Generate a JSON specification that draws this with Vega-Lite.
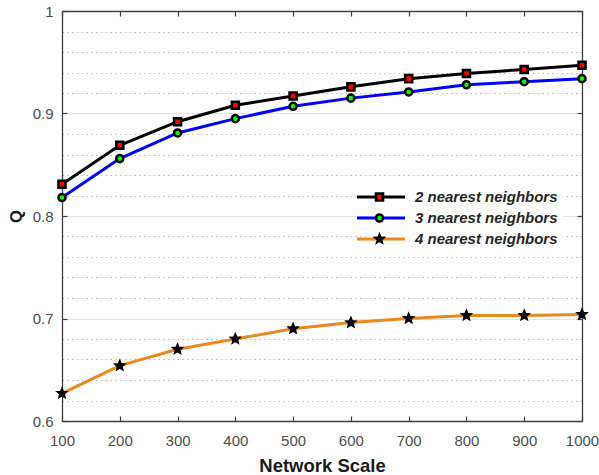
{
  "$schema": "https://vega.github.io/schema/vega-lite/v6.json",
  "width": 520,
  "height": 410,
  "autosize": {"type": "none"},
  "padding": {"left": 62, "top": 11, "right": 17, "bottom": 54},
  "background": "white",
  "config": {"view": {"stroke": null}, "font": "Liberation Sans"},
  "data": {
    "values": [
      {"scale": 100, "Q": 0.831, "series": "2 nearest neighbors"},
      {"scale": 200, "Q": 0.869, "series": "2 nearest neighbors"},
      {"scale": 300, "Q": 0.892, "series": "2 nearest neighbors"},
      {"scale": 400, "Q": 0.908, "series": "2 nearest neighbors"},
      {"scale": 500, "Q": 0.917, "series": "2 nearest neighbors"},
      {"scale": 600, "Q": 0.926, "series": "2 nearest neighbors"},
      {"scale": 700, "Q": 0.934, "series": "2 nearest neighbors"},
      {"scale": 800, "Q": 0.939, "series": "2 nearest neighbors"},
      {"scale": 900, "Q": 0.943, "series": "2 nearest neighbors"},
      {"scale": 1000, "Q": 0.947, "series": "2 nearest neighbors"},
      {"scale": 100, "Q": 0.818, "series": "3 nearest neighbors"},
      {"scale": 200, "Q": 0.856, "series": "3 nearest neighbors"},
      {"scale": 300, "Q": 0.881, "series": "3 nearest neighbors"},
      {"scale": 400, "Q": 0.895, "series": "3 nearest neighbors"},
      {"scale": 500, "Q": 0.907, "series": "3 nearest neighbors"},
      {"scale": 600, "Q": 0.915, "series": "3 nearest neighbors"},
      {"scale": 700, "Q": 0.921, "series": "3 nearest neighbors"},
      {"scale": 800, "Q": 0.928, "series": "3 nearest neighbors"},
      {"scale": 900, "Q": 0.931, "series": "3 nearest neighbors"},
      {"scale": 1000, "Q": 0.934, "series": "3 nearest neighbors"},
      {"scale": 100, "Q": 0.627, "series": "4 nearest neighbors"},
      {"scale": 200, "Q": 0.654, "series": "4 nearest neighbors"},
      {"scale": 300, "Q": 0.670, "series": "4 nearest neighbors"},
      {"scale": 400, "Q": 0.680, "series": "4 nearest neighbors"},
      {"scale": 500, "Q": 0.690, "series": "4 nearest neighbors"},
      {"scale": 600, "Q": 0.696, "series": "4 nearest neighbors"},
      {"scale": 700, "Q": 0.700, "series": "4 nearest neighbors"},
      {"scale": 800, "Q": 0.703, "series": "4 nearest neighbors"},
      {"scale": 900, "Q": 0.703, "series": "4 nearest neighbors"},
      {"scale": 1000, "Q": 0.704, "series": "4 nearest neighbors"}
    ]
  },
  "resolve": {"axis": {"x": "independent", "y": "independent"}},
  "layer": [
    {
      "mark": {"type": "line", "strokeWidth": 3},
      "encoding": {
        "x": {
          "field": "scale", "type": "quantitative",
          "scale": {"domain": [100, 1000], "nice": false, "zero": false},
          "axis": {
            "orient": "bottom",
            "values": [100, 200, 300, 400, 500, 600, 700, 800, 900, 1000],
            "format": "d",
            "grid": false,
            "tickSize": -5, "tickColor": "#404040", "tickWidth": 1.2,
            "domainColor": "#404040", "domainWidth": 1.3,
            "labelFontSize": 15, "labelColor": "#4d4d4d", "labelPadding": 17,
            "labelFlush": false, "labelOverlap": false,
            "title": "Network Scale", "titleFontSize": 18.5, "titleFontWeight": "bold",
            "titleColor": "#1a1a1a", "titlePadding": 8
          }
        },
        "y": {
          "field": "Q", "type": "quantitative",
          "scale": {"domain": [0.6, 1], "nice": false, "zero": false},
          "axis": {
            "orient": "left",
            "values": [0.6, 0.62, 0.64, 0.66, 0.68, 0.7, 0.72, 0.74, 0.76, 0.78, 0.8, 0.82, 0.84, 0.86, 0.88, 0.9, 0.92, 0.94, 0.96, 0.98, 1.0],
            "labelExpr": "abs(datum.value*10-round(datum.value*10))<0.001 ? format(datum.value,'.1~f') : ''",
            "grid": true,
            "gridColor": {"condition": {"test": "abs(datum.value*10-round(datum.value*10))<0.001", "value": "#e3e3e3"}, "value": "#b8b8b8"},
            "gridDash": {"condition": {"test": "abs(datum.value*10-round(datum.value*10))<0.001", "value": []}, "value": [1.5, 3.3]},
            "gridWidth": 1,
            "tickSize": -5, "tickColor": "#404040", "tickWidth": 1.2,
            "tickOpacity": {"condition": {"test": "abs(datum.value*10-round(datum.value*10))<0.001", "value": 1}, "value": 0},
            "domainColor": "#404040", "domainWidth": 1.3,
            "labelFontSize": 15, "labelColor": "#4d4d4d", "labelPadding": 14,
            "labelFlush": false, "labelOverlap": false,
            "title": "Q", "titleFontSize": 16.5, "titleFontWeight": "bold",
            "titleColor": "#1a1a1a", "titlePadding": 8
          }
        },
        "color": {
          "field": "series", "type": "nominal",
          "scale": {
            "domain": ["2 nearest neighbors", "3 nearest neighbors", "4 nearest neighbors"],
            "range": ["#000000", "#0000ff", "#e98a1f"]
          },
          "legend": {
            "orient": "none", "legendX": 307.5, "legendY": 174.5,
            "title": null, "padding": 4, "fillColor": "white",
            "symbolType": "M-12,0H12", "symbolSize": 16, "symbolStrokeWidth": 3,
            "labelOffset": 26.5, "labelFontSize": 15, "labelFontWeight": "bold",
            "labelFontStyle": "italic", "labelColor": "#262626",
            "rowPadding": 5, "zindex": 1
          }
        }
      }
    },
    {
      "mark": {"type": "point", "filled": false, "strokeWidth": 2.5, "size": 50, "opacity": 1},
      "encoding": {
        "x": {
          "field": "scale", "type": "quantitative",
          "scale": {"domain": [100, 1000], "nice": false, "zero": false},
          "axis": {
            "orient": "top",
            "values": [100, 200, 300, 400, 500, 600, 700, 800, 900, 1000],
            "grid": false, "labels": false, "title": null,
            "tickSize": -5, "tickColor": "#404040", "tickWidth": 1.2,
            "domainColor": "#404040", "domainWidth": 1.3
          }
        },
        "y": {
          "field": "Q", "type": "quantitative",
          "scale": {"domain": [0.6, 1], "nice": false, "zero": false},
          "axis": {
            "orient": "right",
            "values": [0.6, 0.7, 0.8, 0.9, 1.0],
            "grid": false, "labels": false, "title": null,
            "tickSize": -5, "tickColor": "#404040", "tickWidth": 1.2,
            "domainColor": "#404040", "domainWidth": 1.3
          }
        },
        "fill": {
          "field": "series", "type": "nominal",
          "scale": {"range": ["#ff0000", "#00ff00", "#0000ff"]},
          "legend": {
            "orient": "none", "legendX": 306, "legendY": 174.5,
            "title": null, "padding": 4,
            "symbolSize": 50, "symbolStrokeWidth": 2.5,
            "labelOffset": 26.5, "labelFontSize": 15, "labelFontWeight": "bold",
            "labelFontStyle": "italic", "labelOpacity": 0,
            "rowPadding": 2, "zindex": 2
          }
        },
        "stroke": {
          "field": "series", "type": "nominal",
          "scale": {"range": ["#000000", "#000000", "#000000"]},
          "legend": {
            "orient": "none", "legendX": 306, "legendY": 174.5,
            "title": null, "padding": 4,
            "symbolSize": 50, "symbolStrokeWidth": 2.5,
            "labelOffset": 26.5, "labelFontSize": 15, "labelFontWeight": "bold",
            "labelFontStyle": "italic", "labelOpacity": 0,
            "rowPadding": 2, "zindex": 2
          }
        },
        "shape": {
          "field": "series", "type": "nominal",
          "scale": {"range": ["square", "circle", "M0,-1.1L0.291,-0.4L1.046,-0.34L0.47,0.153L0.647,0.89L0,0.495L-0.647,0.89L-0.47,0.153L-1.046,-0.34L-0.291,-0.4Z"]},
          "legend": {
            "orient": "none", "legendX": 306, "legendY": 174.5,
            "title": null, "padding": 4,
            "symbolSize": 50, "symbolStrokeWidth": 2.5,
            "labelOffset": 26.5, "labelFontSize": 15, "labelFontWeight": "bold",
            "labelFontStyle": "italic", "labelOpacity": 0,
            "rowPadding": 2, "zindex": 2
          }
        }
      }
    }
  ]
}
